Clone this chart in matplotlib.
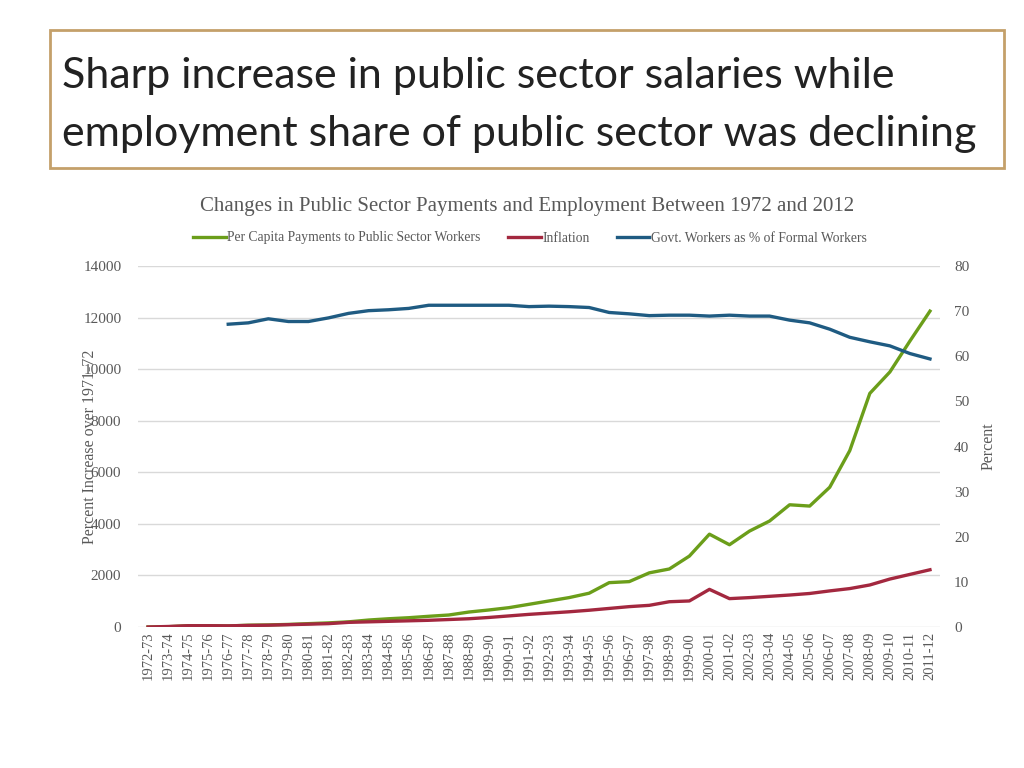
import numpy as np
import matplotlib.pyplot as plt
from matplotlib.patches import Rectangle

years = ["1972-73", "1973-74", "1974-75", "1975-76", "1976-77", "1977-78", "1978-79",
         "1979-80", "1980-81", "1981-82", "1982-83", "1983-84", "1984-85", "1985-86",
         "1986-87", "1987-88", "1988-89", "1989-90", "1990-91", "1991-92", "1992-93",
         "1993-94", "1994-95", "1995-96", "1996-97", "1997-98", "1998-99", "1999-00",
         "2000-01", "2001-02", "2002-03", "2003-04", "2004-05", "2005-06", "2006-07",
         "2007-08", "2008-09", "2009-10", "2010-11", "2011-12"]

# percent increase over 1971-72 (left axis)
payments = [0, 10, 50, 50, 40, 70, 80, 100, 130, 160,
            200, 270, 320, 360, 415, 465, 580, 660, 750, 880,
            1010, 1140, 1310, 1720, 1760, 2100, 2250, 2750, 3600, 3190,
            3720, 4110, 4740, 4690, 5420, 6840, 9060, 9890, 11090, 12250]
inflation = [0, 20, 50, 50, 45, 60, 70, 90, 110, 130,
             180, 200, 220, 240, 260, 290, 320, 370, 430, 490,
             540, 590, 650, 720, 790, 840, 980, 1010, 1460, 1100,
             1140, 1190, 1240, 1300, 1400, 1490, 1630, 1860, 2040, 2220]
# govt workers as % of formal workers (right axis), no data before 1976-77
govt_share = [np.nan, np.nan, np.nan, np.nan, 67.1, 67.4, 68.3, 67.7, 67.7, 68.5,
              69.5, 70.1, 70.3, 70.6, 71.3, 71.3, 71.3, 71.3, 71.3, 71.0,
              71.1, 71.0, 70.8, 69.7, 69.4, 69.0, 69.1, 69.1, 68.9, 69.1,
              68.9, 68.9, 68.0, 67.4, 66.0, 64.2, 63.2, 62.3, 60.6, 59.4]

green = "#6b9e1a"
red = "#a3283f"
blue = "#1f5b82"
grey = "#595959"
serif = "Liberation Serif"

fig = plt.figure(figsize=(10.24, 7.68), dpi=100)

# title box
fig.patches.append(Rectangle((50 / 1024, 1 - 168 / 768), 954 / 1024, 138 / 768,
                             transform=fig.transFigure, fill=False,
                             edgecolor="#c4a06a", linewidth=2))
fig.text(62 / 1024, 1 - 76 / 768, "Sharp increase in public sector salaries while",
         fontsize=31, family="Lato", color="#222222", va="center", ha="left")
fig.text(62 / 1024, 1 - 134 / 768, "employment share of public sector was declining",
         fontsize=31, family="Lato", color="#222222", va="center", ha="left")

ax = fig.add_axes([138 / 1024, 1 - 627 / 768, 802 / 1024, 361 / 768])
x = np.arange(len(years))
l1, = ax.plot(x, payments, color=green, lw=2.4, label="Per Capita Payments to Public Sector Workers")
l2, = ax.plot(x, inflation, color=red, lw=2.4, label="Inflation")
ax.set_xlim(-0.5, len(years) - 0.5)
ax.set_ylim(0, 14000)
ax.set_yticks(range(0, 14001, 2000))
ax.grid(axis="y", color="#d9d9d9", lw=1)
ax.set_axisbelow(True)
for s in ax.spines.values():
    s.set_visible(False)
ax.tick_params(length=0)
ax.set_xticks(x)
ax.set_xticklabels(years, rotation=90, family=serif, fontsize=10.5, color=grey)
ax.tick_params(axis="y", labelsize=11, labelcolor=grey, pad=12)
for t in ax.get_yticklabels():
    t.set_family(serif)
ax.set_ylabel("Percent Increase over 1971-72", family=serif, fontsize=11.5, color=grey)
ax.yaxis.set_label_coords(-0.05, 0.5)

ax2 = ax.twinx()
l3, = ax2.plot(x, govt_share, color=blue, lw=2.4, label="Govt. Workers as % of Formal Workers")
ax2.set_ylim(0, 80)
ax2.set_yticks(range(0, 81, 10))
for s in ax2.spines.values():
    s.set_visible(False)
ax2.tick_params(length=0, labelsize=11, labelcolor=grey, pad=10)
for t in ax2.get_yticklabels():
    t.set_family(serif)
ax2.set_ylabel("Percent", family=serif, fontsize=11.5, color=grey)
ax2.yaxis.set_label_coords(1.05, 0.5)

fig.text(527 / 1024, 1 - 206 / 768, "Changes in Public Sector Payments and Employment Between 1972 and 2012",
         family=serif, fontsize=15, color=grey, ha="center", va="center")
fig.legend(handles=[l1, l2, l3], loc="center", bbox_to_anchor=(530 / 1024, 1 - 238 / 768),
           ncol=3, frameon=False, prop={"family": serif, "size": 9.8}, labelcolor=grey,
           handlelength=2.4, handletextpad=0.1, columnspacing=2.0)

fig.savefig("out.png", dpi=100)
